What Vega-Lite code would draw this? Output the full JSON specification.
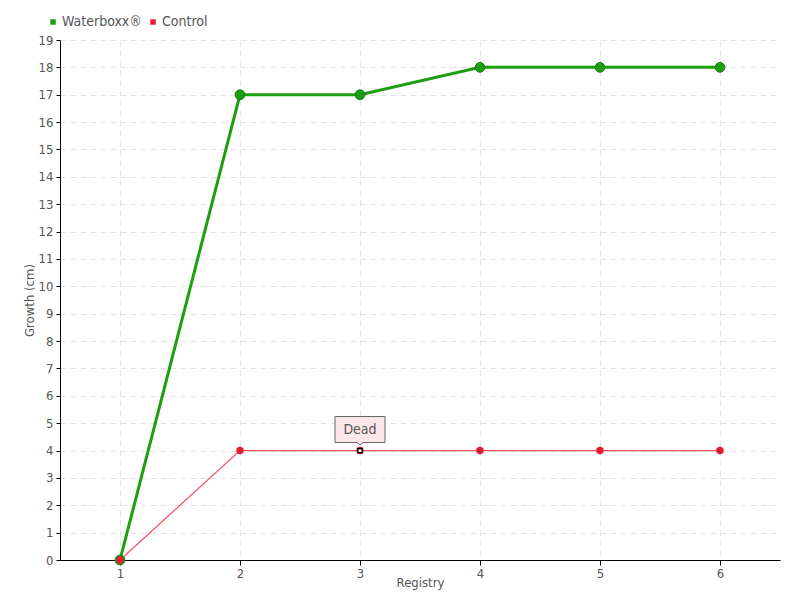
{
  "$schema": "https://vega.github.io/schema/vega-lite/v6.json",
  "width": 720,
  "height": 520,
  "autosize": "none",
  "padding": {"left": 60, "top": 40, "right": 20, "bottom": 40},
  "background": "white",
  "config": {
    "font": "DejaVu Sans Condensed",
    "view": {"stroke": null},
    "axis": {
      "labelColor": "#555",
      "titleColor": "#555",
      "labelFontSize": 13,
      "titleFontSize": 13,
      "titleFontWeight": "normal",
      "domainColor": "#000",
      "tickColor": "#000",
      "gridColor": "#e2e2e2",
      "gridDash": [6, 4]
    }
  },
  "datasets": {
    "series": [
      {"registry": 1, "growth": 0, "group": "Waterboxx®"},
      {"registry": 2, "growth": 17, "group": "Waterboxx®"},
      {"registry": 3, "growth": 17, "group": "Waterboxx®"},
      {"registry": 4, "growth": 18, "group": "Waterboxx®"},
      {"registry": 5, "growth": 18, "group": "Waterboxx®"},
      {"registry": 6, "growth": 18, "group": "Waterboxx®"},
      {"registry": 1, "growth": 0, "group": "Control"},
      {"registry": 2, "growth": 4, "group": "Control"},
      {"registry": 3, "growth": 4, "group": "Control"},
      {"registry": 4, "growth": 4, "group": "Control"},
      {"registry": 5, "growth": 4, "group": "Control"},
      {"registry": 6, "growth": 4, "group": "Control"}
    ],
    "note": [{"registry": 3, "growth": 4, "label": "Dead"}]
  },
  "encoding": {
    "x": {
      "field": "registry", "type": "quantitative",
      "scale": {"domain": [0.5, 6.5], "nice": false, "zero": false},
      "axis": {"title": "Registry", "values": [1, 2, 3, 4, 5, 6], "format": "d", "tickSize": 5, "titlePadding": -4, "labelPadding": 2}
    },
    "y": {
      "field": "growth", "type": "quantitative",
      "scale": {"domain": [0, 19], "nice": false},
      "axis": {"title": "Growth (cm)", "values": [0,1,2,3,4,5,6,7,8,9,10,11,12,13,14,15,16,17,18,19], "tickSize": 4, "labelPadding": 3, "titlePadding": 2}
    }
  },
  "layer": [
    {
      "data": {"name": "series"},
      "transform": [{"filter": "datum.group === 'Waterboxx®'"}],
      "mark": {"type": "line", "color": "#1c9e10", "strokeWidth": 3},
      "encoding": {}
    },
    {
      "data": {"name": "series"},
      "transform": [{"filter": "datum.group === 'Control'"}],
      "mark": {"type": "line", "color": "#f2505e", "strokeWidth": 1.2},
      "encoding": {}
    },
    {
      "data": {"name": "series"},
      "transform": [{"filter": "datum.group === 'Waterboxx®'"}],
      "mark": {"type": "point", "filled": true, "size": 95, "color": "#1c9e10", "stroke": "#157a0c", "strokeWidth": 1, "opacity": 1},
      "encoding": {
        "color": {
          "field": "group", "type": "nominal",
          "scale": {"domain": ["Waterboxx®", "Control"], "range": ["#1c9e10", "#ee1b2e"]},
          "legend": {
            "title": null, "orient": "none", "legendX": -14, "legendY": -25,
            "direction": "horizontal", "symbolType": "square", "symbolSize": 30,
            "labelFontSize": 14, "labelColor": "#555", "columnPadding": 4, "labelOffset": 2, "symbolStrokeWidth": 0
          }
        }
      }
    },
    {
      "data": {"name": "series"},
      "transform": [{"filter": "datum.group === 'Control'"}],
      "mark": {"type": "point", "filled": true, "size": 55, "color": "#ee1b2e", "opacity": 1},
      "encoding": {}
    },
    {
      "data": {"name": "note"},
      "mark": {"type": "point", "shape": "square", "filled": true, "size": 18, "color": "white", "stroke": "#000", "strokeWidth": 1.5, "opacity": 1},
      "encoding": {}
    },
    {
      "data": {"name": "note"},
      "mark": {"type": "point", "shape": "M-1,-1.36H1V-0.32H0.12L0,-0.22L-0.12,-0.32H-1Z", "size": 2500, "filled": true, "fill": "#fde6e8", "stroke": "#666", "strokeWidth": 1, "opacity": 1},
      "encoding": {}
    },
    {
      "data": {"name": "note"},
      "mark": {"type": "text", "dy": -21, "fontSize": 14, "color": "#555"},
      "encoding": {"text": {"field": "label"}}
    }
  ]
}
